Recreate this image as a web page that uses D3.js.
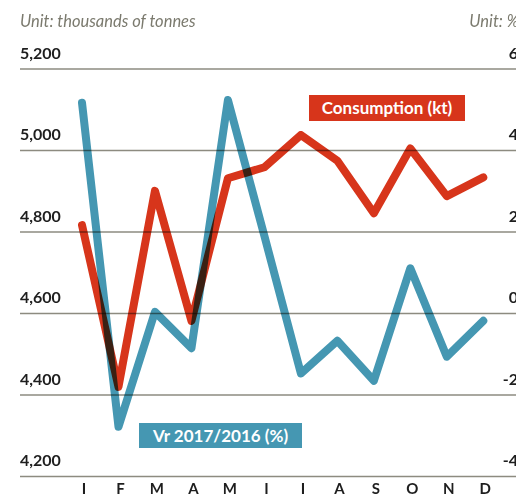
<!DOCTYPE html>
<html>
<head>
<meta charset="utf-8">
<script src="https://cdn.jsdelivr.net/npm/d3@7"></script>
<style>
  html, body { margin: 0; padding: 0; background: #fff; overflow: hidden; }
  svg { display: block; font-family: Lato, "Open Sans", sans-serif; }
</style>
</head>
<body>
<div id="chart"></div>
<script>
// monthly data
const months = ["I", "F", "M", "A", "M", "I", "I", "A", "S", "O", "N", "D"];
const consumption = [4817, 4420, 4901, 4582, 4932, 4959, 5038, 4975, 4846, 5005, 4888, 4934];
const changePct = [5.17, -2.78, 0.04, -0.85, 5.24, 1.9, -1.47, -0.67, -1.65, 1.11, -1.06, -0.18];
const leftTicks = [4200, 4400, 4600, 4800, 5000, 5200];
const rightTicks = [-4, -2, 0, 2, 4, 6];

const width = 516, height = 496;
const red = "#d7351b";
const blue = "#4597b2";

const svg = d3.select("#chart")
  .append("svg")
  .attr("width", width)
  .attr("height", height);

const x = d3.scalePoint()
  .domain(d3.range(months.length))
  .range([82, 483.3]);

const yLeft = d3.scaleLinear().domain([4200, 5200]).range([476.5, 69]);
const yRight = d3.scaleLinear().domain([-4, 6]).range([476.5, 69]);

// unit captions
svg.append("text")
  .attr("x", 20).attr("y", 27)
  .attr("fill", "#7b7a6e")
  .attr("font-style", "italic")
  .attr("font-size", 16.5)
  .text("Unit: thousands of tonnes");

svg.append("text")
  .attr("x", 519).attr("y", 27)
  .attr("text-anchor", "end")
  .attr("fill", "#7b7a6e")
  .attr("font-style", "italic")
  .attr("font-size", 16.5)
  .text("Unit: %");

// tick labels
svg.append("g").selectAll("text")
  .data(leftTicks)
  .join("text")
  .attr("x", 20)
  .attr("y", (d) => yLeft(d) - 10.5)
  .attr("fill", "#1e1e1e")
  .attr("font-weight", 700)
  .attr("font-size", 16)
  .text(d3.format(","));

svg.append("g").selectAll("text")
  .data(rightTicks)
  .join("text")
  .attr("x", 518)
  .attr("y", (d) => yRight(d) - 10.5)
  .attr("text-anchor", "end")
  .attr("fill", "#1e1e1e")
  .attr("font-weight", 700)
  .attr("font-size", 16)
  .text((d) => String(d));

// month labels
svg.append("g").selectAll("text")
  .data(months)
  .join("text")
  .attr("x", (d, i) => x(i) + 2)
  .attr("y", 494)
  .attr("text-anchor", "middle")
  .attr("fill", "#1e1e1e")
  .attr("font-weight", 700)
  .attr("font-size", 15)
  .text((d) => d);

// lines
const blueLine = d3.line()
  .x((d, i) => x(i))
  .y((d) => yRight(d));

const redLine = d3.line()
  .x((d, i) => x(i))
  .y((d) => yLeft(d));

svg.append("path")
  .datum(changePct)
  .attr("d", blueLine)
  .attr("fill", "none")
  .attr("stroke", blue)
  .attr("stroke-width", 8)
  .attr("stroke-linejoin", "round")
  .attr("stroke-linecap", "round");

svg.append("path")
  .datum(consumption)
  .attr("d", redLine)
  .attr("fill", "none")
  .attr("stroke", red)
  .attr("stroke-width", 8)
  .attr("stroke-linejoin", "round")
  .attr("stroke-linecap", "round")
  .style("mix-blend-mode", "multiply");

// gridlines drawn over the lines
svg.append("g").selectAll("line")
  .data(leftTicks)
  .join("line")
  .attr("x1", 20).attr("x2", width)
  .attr("y1", (d) => yLeft(d)).attr("y2", (d) => yLeft(d))
  .attr("stroke", "#8d8b80")
  .attr("stroke-width", 1.5)
  .style("mix-blend-mode", "multiply");

// series labels
function tag(x0, y0, w, h, fill, label) {
  const g = svg.append("g");
  g.append("rect")
    .attr("x", x0).attr("y", y0)
    .attr("width", w).attr("height", h)
    .attr("fill", fill);
  g.append("text")
    .attr("x", x0 + w / 2).attr("y", y0 + h / 2 + 6)
    .attr("text-anchor", "middle")
    .attr("fill", "#fff")
    .attr("font-weight", 700)
    .attr("font-size", 17)
    .text(label);
}

tag(309, 95, 156, 26, red, "Consumption (kt)");
tag(139, 423, 163, 25, blue, "Vr 2017/2016 (%)");
</script>
</body>
</html>
